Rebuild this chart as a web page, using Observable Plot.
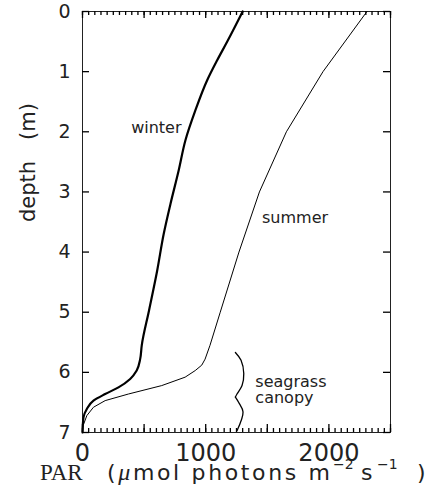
<!DOCTYPE html>
<html><head><meta charset="utf-8">
<script src="https://cdn.jsdelivr.net/npm/d3@7"></script>
<script src="https://cdn.jsdelivr.net/npm/@observablehq/plot@0.6"></script>
<style>body{margin:0;background:#fff} svg{display:block}</style>
</head><body><div id="chart"></div>
<script>
// Winter PAR profile (thick line)
const winterDepth = [0, 0.5, 0.815, 1.147, 1.646, 2.145, 2.64, 3.2, 3.7, 4.31, 4.97, 5.55, 5.78, 5.97, 6.11, 6.25, 6.36, 6.47, 6.61, 6.75, 7];
const winterPar   = [1300, 1175, 1092, 1011, 916, 835, 781, 714, 659, 606, 540, 481, 468, 440, 387, 292, 184, 89, 35, 8, 0];
// Summer PAR profile (thin line)
const summerDepth = [0, 1, 2, 3, 4, 5, 5.55, 5.78, 5.88, 5.97, 6.08, 6.22, 6.36, 6.47, 6.58, 6.72, 6.88, 7];
const summerPar   = [2309, 1952, 1655, 1436, 1270, 1118, 1035, 995, 968, 915, 833, 643, 373, 184, 89, 35, 6, 0];
// Brace marking the seagrass canopy
const bracePart  = ["a","a","a","a","a","a","b","b","b","b"];
const braceDepth = [5.67, 5.80, 6.02, 6.22, 6.36, 6.41, 6.41, 6.50, 6.66, 6.97];
const bracePar   = [1241, 1287, 1309, 1295, 1254, 1241, 1241, 1268, 1303, 1254];
// Annotations
const labelText  = ["winter", "summer", "seagrass", "canopy"];
const labelPar   = [395, 1457, 1403, 1403];
const labelDepth = [1.93, 3.43, 6.15, 6.43];
// Ticks
const xTickLabels = [0, 1000, 2000];
const xMajorTicks = [0, 500, 1000, 1500, 2000, 2500];
const xMinorTicks = d3.range(0, 2501, 50);
const yTickLabels = [0, 1, 2, 3, 4, 5, 6, 7];

const winter = winterDepth.map((d, i) => ({depth: d, par: winterPar[i]}));
const summer = summerDepth.map((d, i) => ({depth: d, par: summerPar[i]}));
const brace = braceDepth.map((d, i) => ({depth: d, par: bracePar[i], part: bracePart[i]}));
const labels = labelText.map((t, i) => ({text: t, par: labelPar[i], depth: labelDepth[i]}));

const W = 431, H = 493, mL = 82, mR = 41, mT = 11, mB = 61;
const pw = W - mL - mR, ph = H - mT - mB;
const xMax = 2500, yMax = 7;
const ink = "#222", axisInk = "#222";

const plot = Plot.plot({
  width: W, height: H,
  marginLeft: mL, marginRight: mR, marginTop: mT, marginBottom: mB,
  style: {fontFamily: "'DejaVu Sans', sans-serif", background: "#fff"},
  x: {domain: [0, xMax], label: null},
  y: {domain: [0, yMax], reverse: true, label: null},
  marks: [
    Plot.frame({stroke: axisInk}),
    // inward ticks on all four sides (ticks span the frame, shortened by insets)
    Plot.tickX(xMinorTicks, {x: d => d, insetTop: ph - 4, stroke: "#000", strokeWidth: 1.3}),
    Plot.tickX(xMajorTicks, {x: d => d, insetTop: ph - 8, stroke: "#000", strokeWidth: 1.3}),
    Plot.tickX(xMinorTicks, {x: d => d, insetBottom: ph - 4, stroke: "#000", strokeWidth: 1.3}),
    Plot.tickX(xMajorTicks, {x: d => d, insetBottom: ph - 7, stroke: "#000", strokeWidth: 1.3}),
    Plot.tickY(yTickLabels, {y: d => d, insetRight: pw - 7, stroke: "#000", strokeWidth: 1.3}),
    Plot.tickY(yTickLabels, {y: d => d, insetLeft: pw - 7, stroke: "#000", strokeWidth: 1.3}),
    Plot.axisX({anchor: "bottom", ticks: xTickLabels, tickSize: 0, tickPadding: 11, label: null, fontSize: 24, fill: ink, tickFormat: d => String(d)}),
    Plot.axisY({anchor: "left", ticks: yTickLabels, tickSize: 0, tickPadding: 12, label: null, fontSize: 19, fill: ink, tickFormat: d => String(d)}),
    Plot.text(["depth\u2002\u2002(m)"], {frameAnchor: "left", text: d => d, rotate: -90, dx: -54, fontSize: 21, fill: ink}),
    Plot.line(summer, {x: "par", y: "depth", stroke: "#000", strokeWidth: 1}),
    Plot.line(winter, {x: "par", y: "depth", stroke: "#000", strokeWidth: 2.2, curve: "monotone-y"}),
    Plot.line(brace, {x: "par", y: "depth", z: "part", stroke: "#000", strokeWidth: 1.3, curve: "catmull-rom"}),
    Plot.text(labels, {x: "par", y: "depth", text: "text", textAnchor: "start", fontSize: 16, fill: ink})
  ]
});
document.getElementById("chart").append(plot);

// x-axis title with mixed fonts and superscripts
const svg = d3.select(plot);
const title = svg.append("g")
  .attr("fill", ink)
  .attr("text-anchor", "start")
  .attr("font-family", "'DejaVu Sans', sans-serif")
  .attr("font-size", 22);
title.append("text").attr("x", 40).attr("y", 480)
  .attr("font-family", "'Liberation Serif', 'DejaVu Serif', serif").attr("font-size", 23).text("PAR");
const main = title.append("text").attr("x", 107).attr("y", 480)
  .attr("textLength", 223).attr("lengthAdjust", "spacing");
main.append("tspan").text("(");
main.append("tspan").attr("font-family", "'Liberation Serif', serif").attr("font-style", "italic").attr("font-size", 24).text("\u03bc");
main.append("tspan").text("mol photons m");
title.append("text").attr("x", 333).attr("y", 469).attr("font-size", 14).text("\u22122");
title.append("text").attr("x", 361).attr("y", 480).text("s");
title.append("text").attr("x", 377).attr("y", 469).attr("font-size", 14).text("\u22121");
title.append("text").attr("x", 417).attr("y", 480).text(")");
</script>
</body></html>
